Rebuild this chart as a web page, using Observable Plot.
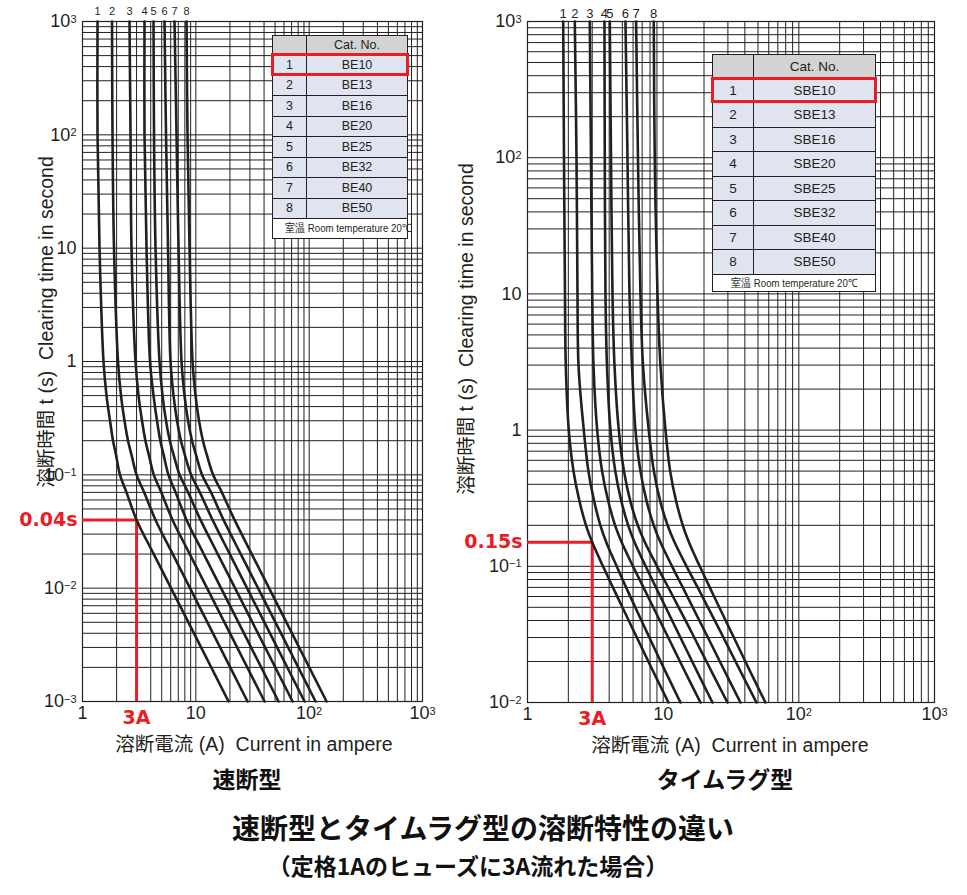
<!DOCTYPE html>
<html><head><meta charset="utf-8">
<script src="https://cdn.jsdelivr.net/npm/d3@7"></script>
<script src="https://cdn.jsdelivr.net/npm/@observablehq/plot@0.6"></script>
<style>
body{margin:0;background:#fff;}
#page{position:relative;width:967px;height:895px;overflow:hidden;font-family:"Liberation Sans","Noto Sans CJK JP",sans-serif;color:#231f20;background:#fff}
.abs{position:absolute;white-space:pre;transform:translate(-50%,-50%);line-height:1}
.plotbox{position:absolute;top:0}
table.cat{position:absolute;border-collapse:collapse;table-layout:fixed;color:#231f20;font-family:"Liberation Sans",Arial,sans-serif}
table.cat td{border:1px solid #231f20;padding:0;text-align:center;background:#e0e4f0;line-height:1}
table.cat tr.hd td{background:#d3d3d3}
table.cat tr.ft td{background:#fff}
.redbox{position:absolute;border:3px solid #eb1c24;box-sizing:border-box}
</style></head>
<body><div id="page"></div>
<script>
// ---------- data ----------
const curveIds = ["1","2","3","4","5","6","7","8"];

// 速断型 (fast-acting): clearing time (s) and the current (A) of each curve at that time
const fastTimes  = [1000, 100, 10, 1, 0.5, 0.3, 0.2, 0.15, 0.1, 0.07, 0.04, 0.02, 0.01, 0.001];
const fastCurve1 = [1.357, 1.357, 1.413, 1.532, 1.629, 1.749, 1.859, 1.976, 2.143, 2.445, 3.0, 4.25, 6.04, 19.44];
const fastCurve2 = [1.822, 1.840, 1.897, 2.057, 2.187, 2.348, 2.521, 2.707, 3.0, 3.504, 4.409, 6.254, 8.888, 28.59];
const fastCurve3 = [2.599, 2.653, 2.707, 2.936, 3.121, 3.351, 3.591, 3.848, 4.259, 4.960, 6.229, 8.835, 12.56, 40.41];
const fastCurve4 = [3.525, 3.525, 3.672, 3.943, 4.234, 4.545, 4.861, 5.198, 5.731, 6.633, 8.278, 11.74, 16.69, 53.7];
const fastCurve5 = [4.234, 4.277, 4.409, 4.782, 5.083, 5.457, 5.896, 6.369, 7.194, 8.551, 11.00, 15.61, 22.18, 71.4];
const fastCurve6 = [5.293, 5.457, 5.683, 5.980, 6.356, 6.825, 7.387, 7.997, 9.088, 10.85, 14.04, 19.92, 28.31, 91.1];
const fastCurve7 = [6.486, 6.756, 7.035, 7.477, 7.949, 8.535, 9.258, 10.04, 11.34, 13.62, 17.56, 24.91, 35.40, 113.9];
const fastCurve8 = [8.278, 8.447, 8.799, 9.353, 9.940, 10.67, 11.55, 12.51, 14.21, 16.96, 21.96, 31.14, 44.28, 142.4];
const fastCatNo  = ["BE10","BE13","BE16","BE20","BE25","BE32","BE40","BE50"];

// タイムラグ型 (time-lag)
const lagTimes  = [1000, 100, 10, 3, 1, 0.5, 0.3, 0.2, 0.15, 0.1, 0.07, 0.05, 0.03, 0.02, 0.01];
const lagCurve1 = [1.833, 1.858, 1.889, 1.915, 2.015, 2.183, 2.417, 2.698, 3.0, 3.601, 4.259, 5.004, 6.400, 7.779, 10.94];
const lagCurve2 = [2.232, 2.297, 2.336, 2.376, 2.599, 2.811, 3.101, 3.445, 3.808, 4.543, 5.329, 6.229, 7.912, 9.586, 13.41];
const lagCurve3 = [2.878, 2.937, 3.0, 3.065, 3.263, 3.546, 3.939, 4.421, 4.945, 5.991, 7.158, 8.452, 10.90, 13.30, 18.83];
const lagCurve4 = [3.693, 3.712, 3.756, 3.852, 4.089, 4.436, 4.920, 5.522, 6.154, 7.430, 8.85, 10.43, 13.40, 16.36, 23.08];
const lagCurve5 = [4.042, 4.125, 4.231, 4.377, 4.708, 5.142, 5.732, 6.498, 7.331, 9.016, 10.90, 13.01, 16.95, 20.85, 29.77];
const lagCurve6 = [5.275, 5.457, 5.646, 5.89, 6.25, 6.80, 7.557, 8.52, 9.55, 11.63, 13.95, 16.52, 21.38, 26.17, 37.13];
const lagCurve7 = [6.32, 6.52, 6.80, 7.10, 7.83, 8.541, 9.519, 10.78, 12.13, 14.87, 17.96, 21.38, 27.82, 34.16, 48.7];
const lagCurve8 = [8.52, 8.67, 9.08, 9.55, 10.40, 11.26, 12.47, 13.95, 15.49, 18.61, 22.05, 25.91, 33.19, 40.35, 56.7];
const lagCatNo  = ["SBE10","SBE13","SBE16","SBE20","SBE25","SBE32","SBE40","SBE50"];

// axes
const xTickValues = [1, 10, 100, 1000];
const xTickLabels = ["1", "10", "10^2", "10^3"];
const fastYTickValues = [0.001, 0.01, 0.1, 1, 10, 100, 1000];
const fastYTickLabels = ["10^−3", "10^−2", "10^−1", "1", "10", "10^2", "10^3"];
const lagYTickValues = [0.01, 0.1, 1, 10, 100, 1000];
const lagYTickLabels = ["10^−2", "10^−1", "1", "10", "10^2", "10^3"];

// highlighted example: rated 1A fuse with 3A flowing
const fastExample = {I: 3, t: 0.04, label: "0.04s", ILabel: "3A"};
const lagExample  = {I: 3, t: 0.15, label: "0.15s", ILabel: "3A"};

// ---------- drawing ----------
const INK = "#231f20", RED = "#eb1c24";
const page = document.getElementById("page");

function logGrid(lo, hi) {
  const out = [];
  for (let e = Math.round(Math.log10(lo)); e < Math.round(Math.log10(hi)); e++)
    for (let k = 1; k < 10; k++) out.push(+(k * Math.pow(10, e)).toPrecision(3));
  out.push(hi);
  return out;
}

function supify(svg) {
  svg.querySelectorAll("text").forEach(t => {
    const nodes = t.querySelectorAll("tspan").length ? [...t.querySelectorAll("tspan")] : [t];
    nodes.forEach(n => {
      const s = n.textContent;
      if (s.includes("^")) {
        const [base, exp] = s.split("^");
        n.textContent = base;
        const ts = document.createElementNS("http://www.w3.org/2000/svg", "tspan");
        ts.setAttribute("dy", "-0.42em");
        ts.style.fontSize = "11px";
        ts.textContent = exp;
        n.appendChild(ts);
      }
    });
  });
}

function chart(o) {
  const rows = [];
  o.curves.forEach((c, k) => c.forEach((I, j) => rows.push({curve: curveIds[k], I, t: o.times[j]})));
  const xMap = new Map(xTickValues.map((v, i) => [v, xTickLabels[i]]));
  const yMap = new Map(o.yTicks.map((v, i) => [v, o.yLabels[i]]));
  const ex = o.example;
  const svg = Plot.plot({
    width: o.width, height: o.height,
    marginLeft: o.mL, marginRight: o.mR, marginTop: o.mT, marginBottom: o.mB,
    style: {fontFamily: "'Liberation Sans', Arial, sans-serif", fontSize: "18px", color: INK, background: "transparent", overflow: "visible"},
    x: {type: "log", domain: [1, 1000]},
    y: {type: "log", domain: o.yDomain},
    marks: [
      Plot.ruleX(logGrid(1, 1000), {stroke: INK, strokeWidth: 1}),
      Plot.ruleY(logGrid(o.yDomain[0], o.yDomain[1]), {stroke: INK, strokeWidth: 1}),
      Plot.frame({stroke: INK, strokeWidth: 1.2}),
      Plot.ruleX([ex], {x: "I", y1: () => o.yDomain[0], y2: "t", stroke: RED, strokeWidth: 3}),
      Plot.ruleY([ex], {y: "t", x1: () => 1, x2: "I", stroke: RED, strokeWidth: 3}),
      Plot.line(rows, {x: "I", y: "t", z: "curve", curve: "catmull-rom", stroke: INK, strokeWidth: 2.6}),
      Plot.text(o.curves, {x: c => c[0], y: () => o.times[0], text: (c, i) => curveIds[i], dy: o.numDy, fontSize: o.numFont, fill: INK}),
      Plot.axisX(xTickValues, {tickFormat: d => xMap.get(d), tickSize: 0, tickPadding: 5, fill: INK, label: null}),
      Plot.axisY(o.yTicks, {tickFormat: d => yMap.get(d), tickSize: 0, tickPadding: 6, fill: INK, label: null}),
      Plot.text([ex], {x: "I", y: () => o.yDomain[0], text: "ILabel", dy: 16, fill: RED, fontWeight: "bold", fontSize: 19, fontFamily: "'DejaVu Sans', sans-serif"}),
      Plot.text([ex], {x: () => 1, y: "t", text: "label", textAnchor: "end", dx: -5, fill: RED, fontWeight: "bold", fontSize: 19, fontFamily: "'DejaVu Sans', sans-serif"})
    ]
  });
  supify(svg);
  const box = document.createElement("div");
  box.className = "plotbox";
  box.style.left = o.left + "px";
  box.appendChild(svg);
  page.appendChild(box);
}

chart({
  left: 0, width: 470, height: 760, mL: 82, mR: 48, mT: 21, mB: 59,
  times: fastTimes,
  curves: [fastCurve1, fastCurve2, fastCurve3, fastCurve4, fastCurve5, fastCurve6, fastCurve7, fastCurve8],
  yDomain: [0.001, 1000], yTicks: fastYTickValues, yLabels: fastYTickLabels,
  example: fastExample, numFont: 11, numDy: -10
});
chart({
  left: 460, width: 507, height: 760, mL: 67, mR: 33, mT: 21, mB: 58,
  times: lagTimes,
  curves: [lagCurve1, lagCurve2, lagCurve3, lagCurve4, lagCurve5, lagCurve6, lagCurve7, lagCurve8],
  yDomain: [0.01, 1000], yTicks: lagYTickValues, yLabels: lagYTickLabels,
  example: lagExample, numFont: 13, numDy: -8
});

function table(o) {
  const t = document.createElement("table");
  t.className = "cat";
  t.style.left = o.left + "px"; t.style.top = o.top + "px"; t.style.width = o.width + "px";
  t.style.fontSize = o.fs + "px";
  let h = `<colgroup><col style="width:${o.c1}px"><col></colgroup>`;
  h += `<tr class="hd" style="height:${o.hh}px"><td></td><td>Cat. No.</td></tr>`;
  o.cat.forEach((c, i) => { h += `<tr style="height:${o.rh}px"><td>${curveIds[i]}</td><td>${c}</td></tr>`; });
  h += `<tr class="ft" style="height:${o.fh}px"><td colspan="2"><span style="display:inline-block;font-size:${o.ffs}px;transform:scaleX(0.84);white-space:nowrap">室温 Room temperature 20℃</span></td></tr>`;
  t.innerHTML = h;
  page.appendChild(t);
  const r = document.createElement("div");
  r.className = "redbox";
  r.style.left = (o.left - 1) + "px"; r.style.top = (o.top + o.hh - 1) + "px";
  r.style.width = (o.width + 2) + "px"; r.style.height = (o.rh + 2) + "px";
  page.appendChild(r);
}
table({left: 272, top: 35, width: 136, c1: 34, hh: 19, rh: 20.5, fh: 20, fs: 12.5, ffs: 11.5, cat: fastCatNo});
table({left: 712, top: 54, width: 164, c1: 41, hh: 23.5, rh: 24.5, fh: 17, fs: 13.5, ffs: 11.5, cat: lagCatNo});

function label(txt, x, y, css) {
  const d = document.createElement("div");
  d.className = "abs";
  d.textContent = txt;
  d.style.left = x + "px"; d.style.top = y + "px";
  Object.assign(d.style, css || {});
  page.appendChild(d);
  return d;
}
const yTitle = "溶断時間 t (s)  Clearing time in second";
const xTitle = "溶断電流 (A)  Current in ampere";
label(yTitle, 47, 322, {fontSize: "19.5px", transform: "translate(-50%,-50%) rotate(-90deg)"});
label(yTitle, 467, 329, {fontSize: "19.5px", transform: "translate(-50%,-50%) rotate(-90deg)"});
label(xTitle, 254, 745, {fontSize: "19.5px"});
label(xTitle, 730, 746, {fontSize: "19.5px"});
const bold = {fontWeight: "bold", fontFamily: "'Noto Sans CJK JP', sans-serif", color: "#111"};
label("速断型", 247, 778, Object.assign({fontSize: "23px"}, bold));
label("タイムラグ型", 725, 778, Object.assign({fontSize: "23px"}, bold));
label("速断型とタイムラグ型の溶断特性の違い", 483, 827, Object.assign({fontSize: "28px"}, bold));
label("（定格1AのヒューズにA3A流れた場合）".replace("A3A", "3A"), 468, 865, Object.assign({fontSize: "23px"}, bold));
</script>
</body></html>
